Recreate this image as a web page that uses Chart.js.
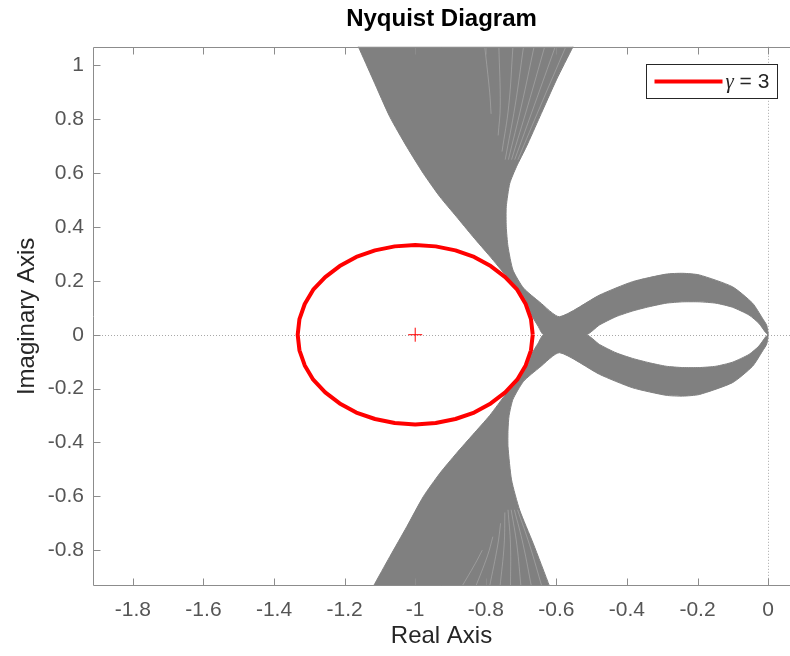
<!DOCTYPE html>
<html><head><meta charset="utf-8">
<script src="https://cdn.jsdelivr.net/npm/chart.js@4.4.1/dist/chart.umd.min.js"></script>
<style>html,body{margin:0;padding:0;background:#fff}canvas{display:block}</style>
</head><body>
<canvas id="c" width="790" height="656"></canvas>
<script>
// ---------- data ----------
const TITLE = 'Nyquist Diagram';
const X_LABEL = 'Real Axis';
const Y_LABEL = 'Imaginary Axis';
const X_LIMITS = [-1.913, 0.062];
const Y_LIMITS = [-0.933, 1.069];
const X_TICKS = [-1.8, -1.6, -1.4, -1.2, -1, -0.8, -0.6, -0.4, -0.2, 0];
const X_TICK_LABELS = ['-1.8', '-1.6', '-1.4', '-1.2', '-1', '-0.8', '-0.6', '-0.4', '-0.2', '0'];
const Y_TICKS = [-0.8, -0.6, -0.4, -0.2, 0, 0.2, 0.4, 0.6, 0.8, 1];
const Y_TICK_LABELS = ['-0.8', '-0.6', '-0.4', '-0.2', '0', '0.2', '0.4', '0.6', '0.8', '1'];
const GAMMA_LABEL = 'γ = 3';

// circle of radius 1/γ around the critical point
const CIRCLE_RE = [-0.667, -0.672, -0.687, -0.711, -0.745, -0.786, -0.833, -0.886, -0.942, -1.000,
  -1.058, -1.114, -1.167, -1.214, -1.255, -1.289, -1.313, -1.328, -1.333,
  -1.328, -1.313, -1.289, -1.255, -1.214, -1.167, -1.114, -1.058, -1.000,
  -0.942, -0.886, -0.833, -0.786, -0.745, -0.711, -0.687, -0.672, -0.667];
const CIRCLE_IM = [0, 0.058, 0.114, 0.167, 0.214, 0.255, 0.289, 0.313, 0.328, 0.333,
  0.328, 0.313, 0.289, 0.255, 0.214, 0.167, 0.114, 0.058, 0,
  -0.058, -0.114, -0.167, -0.214, -0.255, -0.289, -0.313, -0.328, -0.333,
  -0.328, -0.313, -0.289, -0.255, -0.214, -0.167, -0.114, -0.058, 0];
const CRITICAL_RE = [-1];
const CRITICAL_IM = [0];

// envelope of the family of Nyquist curves, upper half (positive frequencies)
const UPPER_RE = [-1.196, -1.161, -1.119, -1.072, -1.024, -0.977, -0.930, -0.883, -0.837, -0.789,
  -0.741, -0.7165, -0.696, -0.680, -0.669, -0.652, -0.636,
  -0.515, -0.478, -0.431, -0.384, -0.337, -0.289, -0.242, -0.195, -0.148, -0.101, -0.054, -0.026, -0.007, 0,
  -0.004, -0.016, -0.044, -0.101, -0.195, -0.242, -0.289, -0.384, -0.478, -0.591,
  -0.647, -0.693, -0.723, -0.737, -0.742, -0.742, -0.732, -0.713, -0.685, -0.647, -0.600, -0.553, -0.516, -1.196];
const UPPER_IM = [1.168, 1.069, 0.946, 0.809, 0.698, 0.599, 0.512, 0.438, 0.365, 0.292,
  0.217, 0.184, 0.148, 0.110, 0.070, 0.032, 0,
  0, 0.036, 0.067, 0.088, 0.104, 0.117, 0.122, 0.122, 0.117, 0.102, 0.073, 0.042, 0.008, 0,
  0.035, 0.061, 0.117, 0.178, 0.222, 0.228, 0.225, 0.197, 0.147, 0.0668,
  0.121, 0.173, 0.240, 0.327, 0.401, 0.475, 0.562, 0.624, 0.698, 0.809, 0.946, 1.069, 1.168, 1.168];
// lower half (negative frequencies)
const LOWER_RE = [-1.218, -1.119, -1.072, -1.024, -0.977, -0.930, -0.883, -0.836, -0.789,
  -0.741, -0.7165, -0.696, -0.680, -0.669, -0.652, -0.636,
  -0.515, -0.478, -0.431, -0.384, -0.337, -0.289, -0.242, -0.195, -0.148, -0.101, -0.054, -0.026, -0.007, 0,
  -0.004, -0.016, -0.044, -0.101, -0.195, -0.242, -0.289, -0.384, -0.478, -0.591,
  -0.647, -0.693, -0.723, -0.734, -0.737, -0.737, -0.727, -0.704, -0.666, -0.619, -0.551, -1.218];
const LOWER_IM = [-1.171, -0.935, -0.824, -0.713, -0.601, -0.514, -0.440, -0.370, -0.300,
  -0.217, -0.184, -0.148, -0.110, -0.070, -0.032, 0,
  0, -0.036, -0.067, -0.088, -0.104, -0.117, -0.122, -0.122, -0.117, -0.102, -0.073, -0.042, -0.008, 0,
  -0.035, -0.061, -0.117, -0.178, -0.222, -0.228, -0.225, -0.197, -0.147, -0.0668,
  -0.121, -0.173, -0.240, -0.300, -0.354, -0.416, -0.539, -0.651, -0.774, -0.935, -1.171, -1.171];

// faint light streaks between individual curves inside the fans: [x0, y0, x1, y1, x2, y2]
const UPPER_STREAKS = [
  [-0.573, 1.07, -0.645, 0.85, -0.709, 0.65], [-0.603, 1.07, -0.663, 0.85, -0.718, 0.65],
  [-0.633, 1.07, -0.681, 0.85, -0.727, 0.65], [-0.663, 1.07, -0.699, 0.85, -0.736, 0.65],
  [-0.693, 1.07, -0.717, 0.85, -0.745, 0.65], [-0.723, 1.07, -0.735, 0.85, -0.754, 0.68],
  [-0.763, 1.07, -0.759, 0.85, -0.765, 0.74], [-0.803, 1.07, -0.789, 0.90, -0.785, 0.82]];
const LOWER_STREAKS = [
  [-0.640, -0.94, -0.676, -0.78, -0.710, -0.65], [-0.670, -0.94, -0.694, -0.78, -0.719, -0.65],
  [-0.700, -0.94, -0.712, -0.78, -0.728, -0.65], [-0.730, -0.94, -0.730, -0.78, -0.737, -0.65],
  [-0.760, -0.94, -0.748, -0.78, -0.746, -0.66], [-0.790, -0.94, -0.766, -0.78, -0.758, -0.70],
  [-0.830, -0.94, -0.795, -0.82, -0.780, -0.75], [-0.870, -0.94, -0.830, -0.85, -0.810, -0.80]];

// ---------- chart ----------
const pts = (re, im) => re.map((x, i) => ({x: x, y: im[i]}));
const FAMILY_GRAY = '#808080';
const AXIS_COLOR = '#8c8c8c';
Chart.defaults.font.family = '"Liberation Sans", Arial, Helvetica, sans-serif';

const matlabAxes = {
  id: 'matlabAxes',
  beforeDatasetsDraw(chart) {
    const {ctx, chartArea: a, scales: {x, y}} = chart;
    ctx.save();
    ctx.strokeStyle = '#a8a8a8';
    ctx.lineWidth = 1;
    ctx.setLineDash([1, 2]);
    const px = Math.round(x.getPixelForValue(0)) + 0.5;
    const py = Math.round(y.getPixelForValue(0)) + 0.5;
    ctx.beginPath();
    ctx.moveTo(a.left, py); ctx.lineTo(a.right, py);
    ctx.moveTo(px, a.top); ctx.lineTo(px, a.bottom);
    ctx.stroke();
    ctx.restore();
  },
  afterDatasetsDraw(chart) {
    const {ctx, chartArea: a, scales: {x, y}} = chart;
    ctx.save();
    ctx.strokeStyle = AXIS_COLOR;
    ctx.lineWidth = 1;
    const L = Math.round(a.left) + 0.5, T = Math.round(a.top) + 0.5, B = Math.round(a.bottom) - 0.5;
    ctx.beginPath();
    ctx.moveTo(a.right, T); ctx.lineTo(L, T); ctx.lineTo(L, B); ctx.lineTo(a.right, B);
    const tl = 7;
    X_TICKS.forEach(v => {
      const p = Math.round(x.getPixelForValue(v)) + 0.5;
      ctx.moveTo(p, T); ctx.lineTo(p, T + tl);
      ctx.moveTo(p, B); ctx.lineTo(p, B - tl);
    });
    Y_TICKS.forEach(v => {
      const p = Math.round(y.getPixelForValue(v)) + 0.5;
      ctx.moveTo(L, p); ctx.lineTo(L + tl, p);
    });
    ctx.stroke();

    // legend
    const ds = chart.data.datasets[0];
    const w = 131, h = 34;
    const bx = Math.round(a.right - 13 - w) + 0.5, by = Math.round(a.top + 17) + 0.5;
    ctx.fillStyle = '#fff';
    ctx.fillRect(bx, by, w, h);
    ctx.strokeStyle = '#262626';
    ctx.lineWidth = 1;
    ctx.strokeRect(bx, by, w, h);
    ctx.strokeStyle = ds.borderColor;
    ctx.lineWidth = ds.borderWidth;
    ctx.beginPath();
    ctx.moveTo(bx + 8, by + h / 2); ctx.lineTo(bx + 76, by + h / 2);
    ctx.stroke();
    const label = ds.label;
    const sym = label.slice(0, 1), rest = label.slice(1);
    ctx.fillStyle = '#262626';
    ctx.textBaseline = 'middle';
    ctx.textAlign = 'left';
    let tx = bx + 79;
    ctx.font = 'italic 21px "Liberation Serif", "Times New Roman", serif';
    ctx.fillText(sym, tx, by + h / 2 + 1);
    tx += ctx.measureText(sym).width;
    ctx.font = '21px "Liberation Sans", Arial, sans-serif';
    ctx.fillText(rest, tx, by + h / 2 + 1);
    ctx.restore();
  }
};

const streakSets = UPPER_STREAKS.concat(LOWER_STREAKS).map((s, i) => ({
  label: 'streak' + i,
  data: [{x: s[0], y: s[1]}, {x: s[2], y: s[3]}, {x: s[4], y: s[5]}],
  showLine: true, borderColor: 'rgba(255,255,255,0.22)', borderWidth: 1, pointRadius: 0,
  fill: false, order: 2, tension: 0.4
}));

new Chart(document.getElementById('c'), {
  type: 'scatter',
  data: {
    datasets: [
      {label: GAMMA_LABEL, data: pts(CIRCLE_RE, CIRCLE_IM), showLine: true, borderColor: '#ff0000',
        borderWidth: 4, pointRadius: 0, fill: false, order: 0, borderJoinStyle: 'round'},
      {label: 'critical', data: pts(CRITICAL_RE, CRITICAL_IM), pointStyle: 'cross', pointRadius: 7,
        borderColor: '#ff0000', borderWidth: 1, order: 1},
      {label: 'upper', data: pts(UPPER_RE, UPPER_IM), showLine: true, borderColor: FAMILY_GRAY,
        backgroundColor: FAMILY_GRAY, borderWidth: 1, pointRadius: 0, fill: 'shape', order: 3, tension: 0.2},
      {label: 'lower', data: pts(LOWER_RE, LOWER_IM), showLine: true, borderColor: FAMILY_GRAY,
        backgroundColor: FAMILY_GRAY, borderWidth: 1, pointRadius: 0, fill: 'shape', order: 3, tension: 0.2}
    ].concat(streakSets)
  },
  options: {
    responsive: false,
    animation: false,
    devicePixelRatio: 1,
    layout: {padding: 0, autoPadding: false},
    plugins: {
      legend: {display: false},
      tooltip: {enabled: false},
      title: {display: true, text: TITLE, fullSize: false, color: '#000',
        font: {size: 24, weight: 'bold'}, padding: {top: 5, bottom: 13}}
    },
    scales: {
      x: {
        type: 'linear', min: X_LIMITS[0], max: X_LIMITS[1],
        afterBuildTicks: s => { s.ticks = X_TICKS.map(v => ({value: v})); },
        afterFit: s => { s.height = 70; },
        ticks: {callback: (v, i) => X_TICK_LABELS[i], color: '#555', font: {size: 21}, padding: 12,
          maxRotation: 0, autoSkip: false},
        grid: {display: false, drawTicks: false},
        border: {display: false},
        title: {display: true, text: X_LABEL, color: '#262626', font: {size: 24}, padding: {top: 0, bottom: 5}}
      },
      y: {
        type: 'linear', min: Y_LIMITS[0], max: Y_LIMITS[1],
        afterBuildTicks: s => { s.ticks = Y_TICKS.map(v => ({value: v})); },
        afterFit: s => { s.width = 93; },
        ticks: {callback: (v, i) => Y_TICK_LABELS[i], color: '#555', font: {size: 21}, padding: 9,
          autoSkip: false},
        grid: {display: false, drawTicks: false},
        border: {display: false},
        title: {display: true, text: Y_LABEL, color: '#262626', font: {size: 24}, padding: {top: 13, bottom: 0}}
      }
    }
  },
  plugins: [matlabAxes]
});
</script>
</body></html>
